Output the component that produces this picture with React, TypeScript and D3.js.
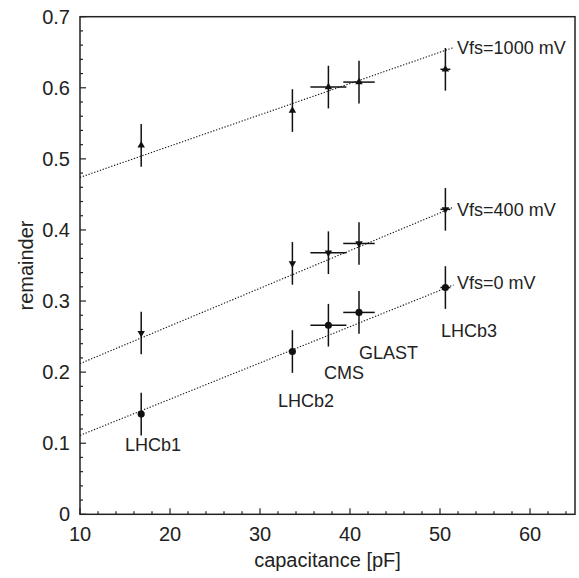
import React, { useEffect, useRef } from "react";
import * as d3 from "d3";

// detector names and their input capacitance [pF]
const detectors = ["LHCb1", "LHCb2", "CMS", "GLAST", "LHCb3"];
const capacitance = [16.8, 33.6, 37.6, 41.0, 50.6];
const capacitanceErr = [0, 0, 2.0, 1.75, 0.55];

// measured remainder per full-scale voltage
const remainder0 = [0.141, 0.229, 0.266, 0.284, 0.319];
const remainder400 = [0.255, 0.353, 0.368, 0.381, 0.429];
const remainder1000 = [0.519, 0.568, 0.601, 0.608, 0.626];
const remainderErr = [0.03, 0.03, 0.03, 0.03, 0.03];

// linear fits: remainder = intercept + slope * C
const fitNames = ["Vfs=0 mV", "Vfs=400 mV", "Vfs=1000 mV"];
const fitIntercept = [0.06, 0.159, 0.43];
const fitSlope = [0.0051, 0.0053, 0.0044];
const fitRange = [10, 51.5];

// annotation anchors in data units [x, y]
const detectorLabelPos = [
  [15.0, 0.089],
  [32.0, 0.151],
  [37.1, 0.191],
  [41.0, 0.219],
  [50.1, 0.25],
];
const fitLabelPos = [
  [51.9, 0.317],
  [51.9, 0.4195],
  [51.9, 0.648],
];

const xTicks = [10, 20, 30, 40, 50, 60];
const yTicks = [0, 0.1, 0.2, 0.3, 0.4, 0.5, 0.6, 0.7];

const App = () => {
  const ref = useRef<SVGSVGElement>(null);

  useEffect(() => {
    drawChart();
  }, []);

  const drawChart = () => {
    const width = 579,
      height = 578;
    const margin = { top: 16.7, right: 4, bottom: 63.7, left: 80 };
    const ink = "#222";
    const font = "'Liberation Sans', Arial, sans-serif";

    const svg = d3.select(ref.current);
    svg.selectAll("*").remove();

    const x = d3
      .scaleLinear()
      .domain([10, 65])
      .range([margin.left, width - margin.right]);
    const y = d3
      .scaleLinear()
      .domain([0, 0.7])
      .range([height - margin.bottom, margin.top]);

    const [x0, x1] = x.range();
    const [y0, y1] = y.range();

    // minor ticks
    const xMinor = d3.range(12, 65, 2).filter((v) => v % 10 !== 0);
    const yMinor = d3.range(0.02, 0.7, 0.02).filter((v) => Math.abs(v * 10 - Math.round(v * 10)) > 1e-6);

    const g = svg.append("g");

    g.selectAll(".xminor")
      .data(xMinor)
      .join("line")
      .attr("x1", (d) => x(d))
      .attr("x2", (d) => x(d))
      .attr("y1", y0)
      .attr("y2", y0 - 3)
      .attr("stroke", ink)
      .attr("stroke-width", 1.2);

    g.selectAll(".xmajor")
      .data(xTicks)
      .join("line")
      .attr("x1", (d) => x(d))
      .attr("x2", (d) => x(d))
      .attr("y1", y0)
      .attr("y2", y0 - 6)
      .attr("stroke", ink)
      .attr("stroke-width", 1.2);

    g.selectAll(".yminor")
      .data(yMinor)
      .join("line")
      .attr("x1", x0)
      .attr("x2", x0 + 3)
      .attr("y1", (d) => y(d))
      .attr("y2", (d) => y(d))
      .attr("stroke", ink)
      .attr("stroke-width", 1.2);

    g.selectAll(".ymajor")
      .data(yTicks)
      .join("line")
      .attr("x1", x0)
      .attr("x2", x0 + 6)
      .attr("y1", (d) => y(d))
      .attr("y2", (d) => y(d))
      .attr("stroke", ink)
      .attr("stroke-width", 1.2);

    // frame
    g.append("rect")
      .attr("x", x0)
      .attr("y", y1)
      .attr("width", x1 - x0)
      .attr("height", y0 - y1)
      .attr("fill", "none")
      .attr("stroke", ink)
      .attr("stroke-width", 1.5);

    // tick labels
    g.selectAll(".xlab")
      .data(xTicks)
      .join("text")
      .attr("x", (d) => x(d))
      .attr("y", y0 + 26.5)
      .attr("text-anchor", "middle")
      .style("font-family", font)
      .style("font-size", "20px")
      .attr("fill", ink)
      .text((d) => d);

    g.selectAll(".ylab")
      .data(yTicks)
      .join("text")
      .attr("x", x0 - 10)
      .attr("y", (d) => y(d) + 7)
      .attr("text-anchor", "end")
      .style("font-family", font)
      .style("font-size", "20px")
      .attr("fill", ink)
      .text((d) => d3.format("~g")(d));

    // axis titles
    g.append("text")
      .attr("x", (x0 + x1) / 2)
      .attr("y", 567)
      .attr("text-anchor", "middle")
      .style("font-family", font)
      .style("font-size", "20px")
      .attr("fill", ink)
      .text("capacitance [pF]");

    g.append("text")
      .attr("transform", `translate(33, ${(y0 + y1) / 2}) rotate(-90)`)
      .attr("text-anchor", "middle")
      .style("font-family", font)
      .style("font-size", "20px")
      .attr("fill", ink)
      .text("remainder");

    // fit lines
    const line = d3
      .line<number>()
      .x((d) => x(d))
      .y((d, i, arr) => 0);
    fitIntercept.forEach((a, k) => {
      const pts = fitRange.map((c) => [x(c), y(a + fitSlope[k] * c)] as [number, number]);
      g.append("path")
        .attr("d", d3.line()(pts))
        .attr("fill", "none")
        .attr("stroke", "#111")
        .attr("stroke-width", 1.1)
        .attr("stroke-dasharray", "1.3 1.7");
    });

    // data series
    const series = [
      { values: remainder0, symbol: d3.symbolCircle, size: 40, rotate: 0 },
      { values: remainder400, symbol: d3.symbolTriangle, size: 24, rotate: 180 },
      { values: remainder1000, symbol: d3.symbolTriangle, size: 24, rotate: 0 },
    ];

    series.forEach((s) => {
      const pts = capacitance.map((c, i) => ({ c, r: s.values[i], ce: capacitanceErr[i], re: remainderErr[i] }));
      const sg = g.append("g");
      sg.selectAll(".ey")
        .data(pts)
        .join("line")
        .attr("x1", (d) => x(d.c))
        .attr("x2", (d) => x(d.c))
        .attr("y1", (d) => y(d.r - d.re))
        .attr("y2", (d) => y(d.r + d.re))
        .attr("stroke", "#111")
        .attr("stroke-width", 1.5);
      sg.selectAll(".ex")
        .data(pts.filter((d) => d.ce > 0))
        .join("line")
        .attr("x1", (d) => x(d.c - d.ce))
        .attr("x2", (d) => x(d.c + d.ce))
        .attr("y1", (d) => y(d.r))
        .attr("y2", (d) => y(d.r))
        .attr("stroke", "#111")
        .attr("stroke-width", 1.5);
      sg.selectAll(".mk")
        .data(pts)
        .join("path")
        .attr("d", d3.symbol(s.symbol, s.size)())
        .attr("transform", (d) => `translate(${x(d.c)},${y(d.r)}) rotate(${s.rotate})`)
        .attr("fill", "#111");
    });

    // annotations
    g.selectAll(".det")
      .data(detectors)
      .join("text")
      .attr("x", (d, i) => x(detectorLabelPos[i][0]))
      .attr("y", (d, i) => y(detectorLabelPos[i][1]))
      .style("font-family", font)
      .style("font-size", "18px")
      .attr("fill", ink)
      .text((d) => d);

    g.selectAll(".fit")
      .data(fitNames)
      .join("text")
      .attr("x", (d, i) => x(fitLabelPos[i][0]))
      .attr("y", (d, i) => y(fitLabelPos[i][1]))
      .style("font-family", font)
      .style("font-size", "18px")
      .attr("fill", ink)
      .text((d) => d);
  };

  return (
    <svg
      ref={ref}
      width={579}
      height={578}
      style={{ position: "absolute", left: 0, top: 0, background: "white" }}
    />
  );
};

export default App;
